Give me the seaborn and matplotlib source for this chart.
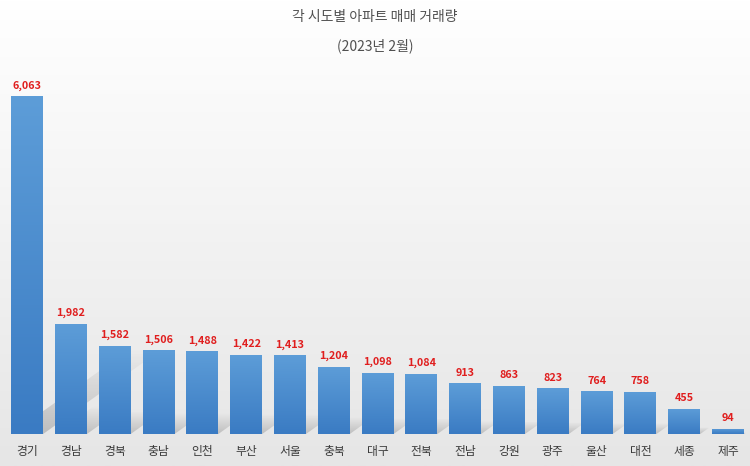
import numpy as np
import pandas as pd
import matplotlib
matplotlib.use('Agg')
import matplotlib.pyplot as plt
from matplotlib.colors import LinearSegmentedColormap
from matplotlib.patches import Polygon
import seaborn as sns

# 2023년 2월 시도별 아파트 매매 거래량
regions = ['경기', '경남', '경북', '충남', '인천', '부산', '서울', '충북', '대구',
           '전북', '전남', '강원', '광주', '울산', '대전', '세종', '제주']
volumes = [6063, 1982, 1582, 1506, 1488, 1422, 1413, 1204, 1098,
           1084, 913, 863, 823, 764, 758, 455, 94]

df = pd.DataFrame({'region': regions, 'volume': volumes})

sns.set_theme(style='white')
plt.rcParams['font.family'] = ['Noto Sans CJK KR', 'DejaVu Sans']

fig = plt.figure(figsize=(7.5, 4.66), dpi=100)

# background gradient (white -> light gray)
bg = fig.add_axes([0, 0, 1, 1], zorder=-10)
bg_grad = np.linspace(0, 1, 256).reshape(-1, 1)
bg_cmap = LinearSegmentedColormap.from_list('bg', ['#ffffff', '#e6e6e6'])
bg.imshow(bg_grad, aspect='auto', cmap=bg_cmap, extent=[0, 1, 0, 1], origin='upper')
bg.set_axis_off()

ax = fig.add_axes([0.007, 0.0687, 0.993, 0.777])
ax.patch.set_alpha(0)

sns.barplot(data=df, x='region', y='volume', width=0.73, color='#5b9bd5',
            saturation=1, linewidth=0, edgecolor='none', ax=ax, zorder=3)

ax.set_xlim(-0.5, len(regions) - 0.5)
ax.set_ylim(0, 6500)
fig.canvas.draw()

# pixels per data unit, used to slant the shadows
x_px = ax.transData.transform((1, 0))[0] - ax.transData.transform((0, 0))[0]
y_px = ax.transData.transform((0, 1000))[1] - ax.transData.transform((0, 0))[1]
y_px = y_px / 1000.0

bar_cmap = LinearSegmentedColormap.from_list('bar', ['#3a7bc3', '#5d9dd8'])
shadow_cmap = LinearSegmentedColormap.from_list(
    'shadow', [(0.55, 0.55, 0.55, 0.0), (0.55, 0.55, 0.55, 0.45)])
grad = np.linspace(0, 1, 256).reshape(-1, 1)

for patch, val in zip(ax.patches, volumes):
    x0 = patch.get_x()
    w = patch.get_width()
    h = patch.get_height()
    # perspective shadow behind the bar
    h_pix = h * y_px
    dx = 0.35 * h_pix / x_px
    dy = 0.25 * h
    poly = Polygon([(x0, 0), (x0 + w, 0), (x0 + w + dx, dy), (x0 + dx, dy)],
                   closed=True, facecolor='none', edgecolor='none',
                   transform=ax.transData)
    ax.add_patch(poly)
    sh = ax.imshow(grad[::-1], aspect='auto', cmap=shadow_cmap,
                   extent=[x0, x0 + w + dx, 0, max(dy, 1)], origin='lower',
                   zorder=1)
    sh.set_clip_path(poly)
    # gradient fill of the bar
    patch.set_facecolor('none')
    patch.set_edgecolor('none')
    im = ax.imshow(grad, aspect='auto', cmap=bar_cmap,
                   extent=[x0, x0 + w, 0, h], origin='lower', zorder=3)
    im.set_clip_path(patch)
    ax.annotate(f'{val:,}', (x0 + w / 2, h), xytext=(0, 4),
                textcoords='offset points', ha='center', va='bottom',
                fontsize=7.8, fontweight='bold', color='#e01e1e', zorder=5)

ax.set_xlim(-0.5, len(regions) - 0.5)
ax.set_ylim(0, 6500)
ax.set_xlabel('')
ax.set_ylabel('')
ax.set_yticks([])
ax.tick_params(axis='x', length=0, pad=8, labelsize=8.5, labelcolor='#3a3a3a')
for lbl in ax.get_xticklabels():
    lbl.set_fontweight('medium')
for s in ax.spines.values():
    s.set_visible(False)

fig.text(0.5, 0.963, '각 시도별 아파트 매매 거래량', ha='center', va='center',
         fontsize=10, color='#505050', fontweight='medium')
fig.text(0.5, 0.901, '(2023년 2월)', ha='center', va='center',
         fontsize=10, color='#505050', fontweight='medium')

fig.savefig('out.png', dpi=100)
